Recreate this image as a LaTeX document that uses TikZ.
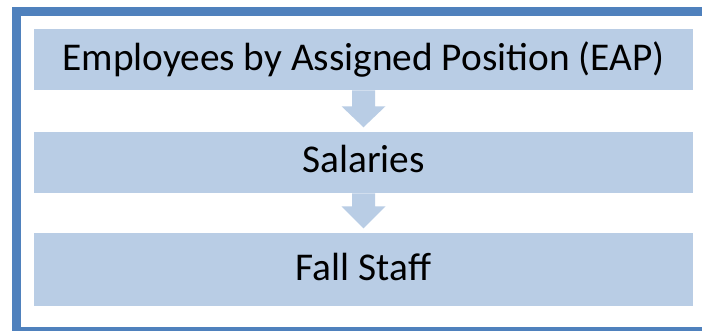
\documentclass[tikz,border=0pt]{standalone}
\usepackage{fontspec}
\setmainfont{Carlito}
\usetikzlibrary{calc}
\definecolor{boxfill}{HTML}{B9CDE5}
\definecolor{frameblue}{HTML}{4F81BD}
\begin{document}
\begin{tikzpicture}[x=0.75pt,y=-0.75pt,
  stagebox/.style={rectangle, fill=boxfill, draw=none, inner sep=0pt,
    minimum width=494.25pt, anchor=base, font=\fontsize{29.5}{34}\selectfont, text=black},
  downarrow/.style={fill=boxfill, draw=none},
  framepart/.style={fill=frameblue, draw=none}]
\useasboundingbox (0,0) rectangle (702,331);
\begin{scope}
\clip (0,0) rectangle (702,331);
\fill[white] (0,0) rectangle (702,331);
\fill[framepart] (11.5,7.5) rectangle (720,16.5);
\fill[framepart] (11.5,7.5) rectangle (20.5,345);
\fill[framepart] (11.5,327) rectangle (720,345);
\end{scope}
\node[stagebox, text height=31.5pt, text depth=14.25pt] (b1) at (363.5,71) {Employees by Assigned Position (EAP)};
\node[stagebox, text height=30.75pt, text depth=15pt] (b2) at (363.5,173) {Salaries};
\node[stagebox, text height=35.25pt, text depth=19.5pt] (b3) at (363.5,280) {Fall Staff};
\fill[downarrow] ($(b1.south)+(-11.5,0)$) -- ($(b1.south)+(11.5,0)$) -- ($(b1.south)+(11.5,16)$)
  -- ($(b1.south)+(22,16)$) -- ($(b1.south)+(0,37)$) -- ($(b1.south)+(-22,16)$)
  -- ($(b1.south)+(-11.5,16)$) -- cycle;
\fill[downarrow] ($(b2.south)+(-11.5,0)$) -- ($(b2.south)+(11.5,0)$) -- ($(b2.south)+(11.5,13)$)
  -- ($(b2.south)+(22,13)$) -- ($(b2.south)+(0,35)$) -- ($(b2.south)+(-22,13)$)
  -- ($(b2.south)+(-11.5,13)$) -- cycle;
\end{tikzpicture}
\end{document}
